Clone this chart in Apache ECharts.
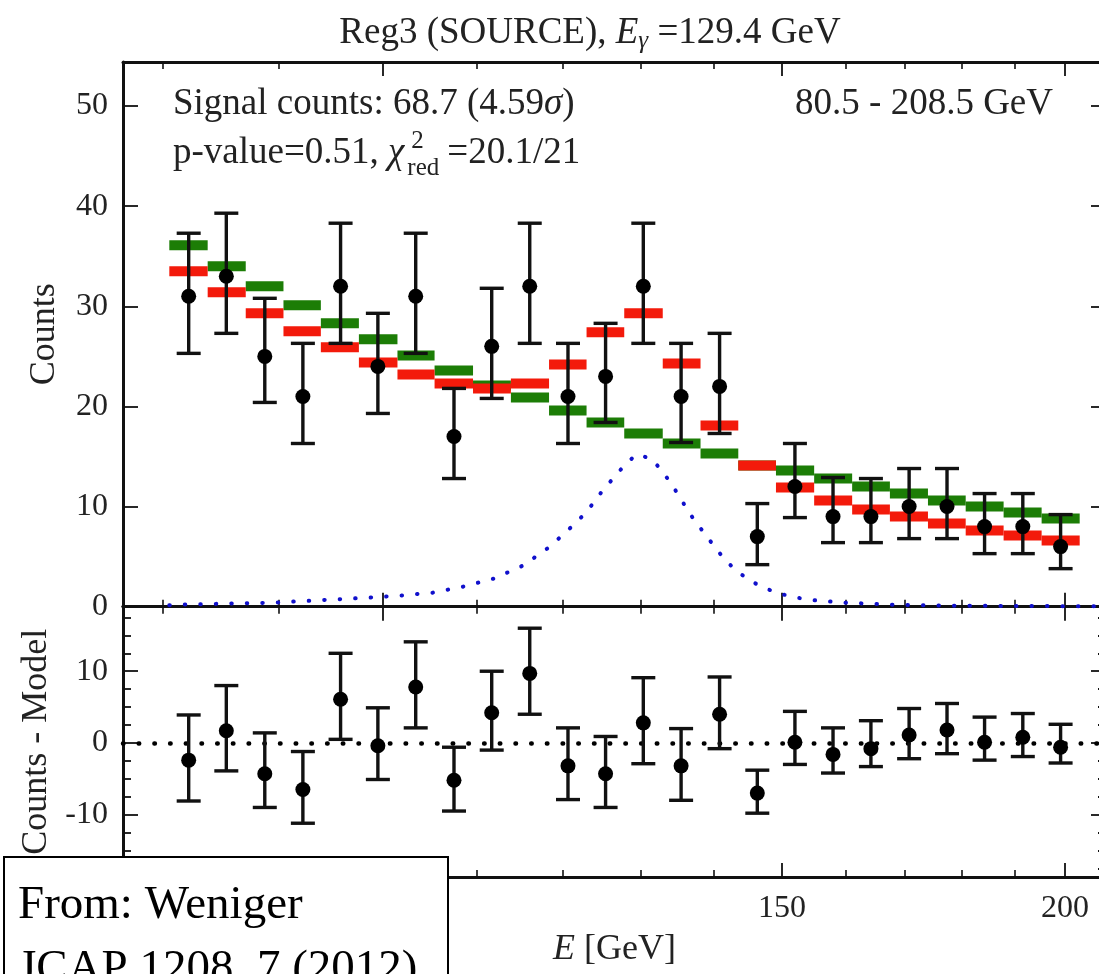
<!DOCTYPE html>
<html>
<head>
<meta charset="utf-8">
<script src="https://cdn.jsdelivr.net/npm/echarts@6/dist/echarts.min.js"></script>
<style>
  html, body { margin: 0; padding: 0; background: #fff; }
  #chart { width: 1099px; height: 974px; }
</style>
</head>
<body>
<div id="chart"></div>
<script>
// energy bins (GeV), log spaced
var binEdges = [80.5, 83.7, 87.0, 90.4, 93.9, 97.6, 101.5, 105.4, 109.6, 113.9, 118.4, 123.0, 127.8,
                132.9, 138.1, 143.5, 149.1, 155.0, 161.1, 167.4, 174.0, 180.8, 187.9, 195.3, 203.0];
var binCenters = [82.1, 85.3, 88.7, 92.2, 95.8, 99.5, 103.4, 107.5, 111.7, 116.1, 120.7, 125.4,
                  130.3, 135.4, 140.8, 146.3, 152.0, 158.0, 164.2, 170.7, 177.4, 184.3, 191.6, 199.1];

// top panel: measured counts with error bars
var counts   = [31, 33, 25, 21, 32, 24, 31, 17, 26, 32, 21, 23, 32, 21, 22, 7, 12, 9, 9, 10, 10, 8, 8, 6];
var countsHi = [37.3, 39.3, 30.8, 26.3, 38.3, 29.3, 37.3, 21.8, 31.8, 38.3, 26.3, 28.3, 38.3, 26.3, 27.3, 10.3,
                16.3, 12.9, 12.8, 13.8, 13.8, 11.3, 11.3, 9.2];
var countsLo = [25.3, 27.3, 20.4, 16.3, 26.3, 19.3, 25.3, 12.8, 20.8, 26.3, 16.3, 18.4, 26.3, 16.4, 17.3, 4.2,
                8.9, 6.4, 6.4, 6.8, 6.8, 5.3, 5.3, 3.8];

// background-only model (green) and background + line (red)
var background = [36.1, 34.0, 32.0, 30.1, 28.3, 26.7, 25.1, 23.6, 22.1, 20.9, 19.6, 18.4, 17.3, 16.3, 15.3, 14.1,
                  13.6, 12.8, 12.0, 11.3, 10.6, 10.0, 9.4, 8.8];
var model = [33.5, 31.4, 29.3, 27.5, 25.9, 24.4, 23.2, 22.3, 21.8, 22.3, 24.2, 27.4, 29.3, 24.3, 18.1, 14.1,
             11.9, 10.6, 9.7, 9.0, 8.3, 7.6, 7.1, 6.6];

// line signal (blue dotted curve)
var sigE = [80.5, 81.1, 89.4, 93.8, 98.5, 101.7, 105.2, 108.5, 111.9, 115.3, 118.5, 121.3, 122.8, 124.0, 125.2,
            126.6, 127.9, 129.4, 131.3, 132.8, 134.0, 135.2, 136.3, 137.6, 139.0, 140.4, 141.8, 143.6, 145.5,
            147.6, 150.0, 152.3, 154.8, 159.9, 167.9, 177.4, 203.1, 208.5];
var sigCounts = [0.15, 0.2, 0.4, 0.65, 0.9, 1.1, 1.4, 2.0, 2.8, 4.1, 6.0, 8.1, 9.3, 10.5, 11.8,
                 13.0, 14.2, 15.2, 14.8, 13.6, 12.3, 11.0, 9.6, 8.3, 7.0, 5.7, 4.5, 3.4, 2.5,
                 1.8, 1.25, 0.9, 0.65, 0.4, 0.2, 0.1, 0.05, 0.04];

// bottom panel: counts - model
var resid   = [-2.4, 1.7, -4.3, -6.5, 6.1, -0.4, 7.8, -5.2, 4.2, 9.7, -3.2, -4.3, 2.8, -3.2, 4.0, -7.0,
               0.1, -1.6, -0.8, 1.1, 1.8, 0.1, 0.8, -0.6];
var residHi = [3.9, 8.0, 1.4, -1.2, 12.5, 4.9, 14.1, -0.6, 10.0, 16.0, 2.1, 0.9, 9.1, 2.0, 9.2, -3.8,
               4.4, 2.1, 3.1, 4.8, 5.5, 3.6, 4.1, 2.6];
var residLo = [-8.1, -3.9, -9.0, -11.2, 0.5, -5.1, 2.1, -9.5, -1.0, 4.0, -7.9, -9.0, -2.9, -8.0, -0.8, -9.8,
               -3.0, -4.2, -3.3, -2.2, -1.5, -2.4, -1.9, -2.8];

// axis ticks
var xMajor = [100, 150, 200];
var xMinor = [80, 90, 110, 120, 130, 140, 160, 170, 180, 190];
var yTopTicks = [0, 10, 20, 30, 40, 50];
var yBotMajor = [-10, 0, 10];
var yBotMinor = [-17.5, -15, -12.5, -7.5, -5, -2.5, 2.5, 5, 7.5, 12.5, 15, 17.5];

var X_MIN = 76.8, X_MAX = 208.5;
var ink = '#111';
var green = '#1c7d06';
var red = '#f31a0b';
var blue = '#1010cc';
var serif = '"Liberation Serif", "Times New Roman", serif';

var chart = echarts.init(document.getElementById('chart'));

function xAxes(grid, position, labels) {
  var base = {
    type: 'log', logBase: 10, gridIndex: grid, position: position,
    min: X_MIN, max: X_MAX,
    splitLine: { show: false },
    axisLine: { show: true, onZero: false, lineStyle: { color: ink, width: 3 } }
  };
  var minor = Object.assign({}, base, {
    axisTick: { show: true, inside: true, length: 7, customValues: xMinor, lineStyle: { color: ink, width: 1.6 } },
    axisLabel: { show: false }
  });
  var major = Object.assign({}, base, {
    axisLine: { show: false, onZero: false },
    axisTick: { show: true, inside: true, length: 14, customValues: xMajor, lineStyle: { color: ink, width: 1.8 } },
    axisLabel: labels
      ? { show: true, customValues: xMajor, margin: 16, color: '#222', fontSize: 32, fontFamily: serif }
      : { show: false }
  });
  if (labels) {
    major.name = '{i|E} [GeV]';
    major.nameLocation = 'middle';
    major.nameGap = 55;
    major.nameTextStyle = {
      color: '#222', fontSize: 36, fontFamily: serif,
      rich: { i: { fontStyle: 'italic', fontSize: 36, fontFamily: serif, color: '#222' } }
    };
  }
  return [minor, major];
}

function yAxis(grid, position, min, max, ticks, len, labels, name) {
  var ax = {
    type: 'value', gridIndex: grid, position: position, min: min, max: max,
    splitLine: { show: false },
    axisLine: { show: true, onZero: false, lineStyle: { color: ink, width: 3 } },
    axisTick: { show: true, inside: true, length: len, customValues: ticks, lineStyle: { color: ink, width: 1.8 } },
    axisLabel: labels
      ? { show: true, customValues: ticks, margin: 15, color: '#222', fontSize: 32, fontFamily: serif }
      : { show: false }
  };
  if (name) {
    ax.name = name;
    ax.nameLocation = 'middle';
    ax.nameGap = 60;
    ax.nameTextStyle = { color: '#222', fontSize: 36, fontFamily: serif };
  }
  return ax;
}

// x axes: 0,1 top grid bottom; 2,3 top grid top; 4,5 bottom grid bottom; 6,7 bottom grid top
var xAxisList = [].concat(
  xAxes(0, 'bottom', false), xAxes(0, 'top', false),
  xAxes(1, 'bottom', true), xAxes(1, 'top', false)
);

// y axes: 0 top left, 1 top right, 2 bottom left major, 3 bottom left minor, 4 bottom right major, 5 bottom right minor
var yAxisList = [
  yAxis(0, 'left', 0, 54.4, yTopTicks, 15, true, 'Counts'),
  yAxis(0, 'right', 0, 54.4, yTopTicks, 15, false),
  yAxis(1, 'left', -18.7, 19.0, yBotMajor, 15, true, 'Counts - Model'),
  yAxis(1, 'left', -18.7, 19.0, yBotMinor, 8, false),
  yAxis(1, 'right', -18.7, 19.0, yBotMajor, 15, false),
  yAxis(1, 'right', -18.7, 19.0, yBotMinor, 8, false)
];

function renderBar(params, api) {
  var a = api.coord([api.value(0), api.value(2)]);
  var b = api.coord([api.value(1), api.value(2)]);
  return {
    type: 'rect',
    shape: { x: a[0], y: a[1] - 5, width: b[0] - a[0], height: 10 },
    style: { fill: api.visual('color') }
  };
}

function renderErr(params, api) {
  var x = api.value(0);
  var lo = api.coord([x, api.value(1)]);
  var hi = api.coord([x, api.value(2)]);
  var hw = 12;
  var st = { stroke: ink, lineWidth: 3.4 };
  return {
    type: 'group',
    children: [
      { type: 'line', shape: { x1: lo[0], y1: lo[1], x2: hi[0], y2: hi[1] }, style: st },
      { type: 'line', shape: { x1: lo[0] - hw, y1: lo[1], x2: lo[0] + hw, y2: lo[1] }, style: st },
      { type: 'line', shape: { x1: hi[0] - hw, y1: hi[1], x2: hi[0] + hw, y2: hi[1] }, style: st }
    ]
  };
}

function barData(vals) {
  return vals.map(function (v, i) { return [binEdges[i], binEdges[i + 1], v]; });
}
function errData(lo, hi) {
  return binCenters.map(function (e, i) { return [e, lo[i], hi[i]]; });
}
function pointData(vals) {
  return binCenters.map(function (e, i) { return [e, vals[i]]; });
}

// text measuring for the stacked chi^2 sub/superscript
var mctx = document.createElement('canvas').getContext('2d');
function textW(str, size, style) {
  mctx.font = (style ? style + ' ' : '') + size + 'px "Liberation Serif"';
  return mctx.measureText(str).width;
}
var TXT = 37;
var pvX = 173;
var chiEnd = pvX + textW('p-value=0.51, ', TXT) + textW('χ', TXT, 'italic') + 3;
var redW = textW('red', 25);

chart.setOption({
  animation: false,
  backgroundColor: '#fff',
  grid: [
    { left: 123, width: 983, top: 62, height: 544.7, outerBoundsMode: 'none', containLabel: false },
    { left: 123, width: 983, top: 606.7, height: 270.3, outerBoundsMode: 'none', containLabel: false }
  ],
  xAxis: xAxisList,
  yAxis: yAxisList,
  series: [
    { type: 'custom', name: 'background', xAxisIndex: 0, yAxisIndex: 0, itemStyle: { color: green },
      encode: { x: [0, 1], y: 2 }, renderItem: renderBar, data: barData(background), z: 2 },
    { type: 'custom', name: 'model', xAxisIndex: 0, yAxisIndex: 0, itemStyle: { color: red },
      encode: { x: [0, 1], y: 2 }, renderItem: renderBar, data: barData(model), z: 3 },
    { type: 'line', name: 'signal', xAxisIndex: 0, yAxisIndex: 0, showSymbol: false, symbol: 'none',
      lineStyle: { color: blue, width: 4, type: [0.5, 15], cap: 'round' },
      data: sigE.map(function (e, i) { return [e, sigCounts[i]]; }), z: 4 },
    { type: 'custom', name: 'counts err', xAxisIndex: 0, yAxisIndex: 0,
      encode: { x: 0, y: [1, 2] }, renderItem: renderErr, data: errData(countsLo, countsHi), z: 5 },
    { type: 'scatter', name: 'counts', xAxisIndex: 0, yAxisIndex: 0, symbolSize: 15,
      itemStyle: { color: '#000', opacity: 1 }, data: pointData(counts), z: 6 },

    { type: 'custom', name: 'resid err', xAxisIndex: 4, yAxisIndex: 2,
      encode: { x: 0, y: [1, 2] }, renderItem: renderErr, data: errData(residLo, residHi), z: 5 },
    { type: 'scatter', name: 'resid', xAxisIndex: 4, yAxisIndex: 2, symbolSize: 15,
      itemStyle: { color: '#000', opacity: 1 }, data: pointData(resid), z: 6,
      markLine: {
        silent: true, symbol: 'none', label: { show: false },
        lineStyle: { color: '#000', width: 4.5, type: [0.5, 15.2], cap: 'round', opacity: 1 },
        data: [{ yAxis: 0 }]
      }
    }
  ],
  graphic: [
    { type: 'text', x: 590, y: 33, style: {
        text: '{n|Reg3 (SOURCE), }{i|E}{s|γ}{n| =129.4 GeV}', align: 'center', verticalAlign: 'middle',
        fontFamily: serif, fontSize: TXT, fill: '#222',
        rich: {
          n: { fontFamily: serif, fontSize: TXT, fill: '#222' },
          i: { fontFamily: serif, fontSize: TXT, fontStyle: 'italic', fill: '#222' },
          s: { fontFamily: serif, fontSize: 25, fontStyle: 'italic', fill: '#222', padding: [16, 0, 0, 0] }
        }
    } },
    { type: 'text', x: 173, y: 104, style: {
        text: 'Signal counts: 68.7 (4.59{i|σ})', align: 'left', verticalAlign: 'middle',
        fontFamily: serif, fontSize: TXT, fill: '#222',
        rich: { i: { fontFamily: serif, fontSize: TXT, fontStyle: 'italic', fill: '#222' } }
    } },
    { type: 'text', x: pvX, y: 153, style: {
        text: 'p-value=0.51, {i|χ}', align: 'left', verticalAlign: 'middle',
        fontFamily: serif, fontSize: TXT, fill: '#222',
        rich: { i: { fontFamily: serif, fontSize: TXT, fontStyle: 'italic', fill: '#222' } }
    } },
    { type: 'text', x: chiEnd + 4, y: 141, style: {
        text: '2', align: 'left', verticalAlign: 'middle', fontFamily: serif, fontSize: 25, fill: '#222'
    } },
    { type: 'text', x: chiEnd, y: 168, style: {
        text: 'red', align: 'left', verticalAlign: 'middle', fontFamily: serif, fontSize: 25, fill: '#222'
    } },
    { type: 'text', x: chiEnd + redW + 8, y: 153, style: {
        text: '=20.1/21', align: 'left', verticalAlign: 'middle', fontFamily: serif, fontSize: TXT, fill: '#222'
    } },
    { type: 'text', x: 1053, y: 104, style: {
        text: '80.5 - 208.5 GeV', align: 'right', verticalAlign: 'middle',
        fontFamily: serif, fontSize: TXT, fill: '#222'
    } },
    // citation box overlaid on the lower left corner
    { type: 'rect', z: 100, shape: { x: 4, y: 857, width: 444, height: 140 },
      style: { fill: '#fff', stroke: '#000', lineWidth: 2 } },
    { type: 'text', z: 101, x: 18, y: 906, style: {
        text: 'From: Weniger', align: 'left', verticalAlign: 'middle',
        fontFamily: serif, fontSize: 47, fill: '#000'
    } },
    { type: 'text', z: 101, x: 18, y: 970, style: {
        text: 'JCAP 1208, 7 (2012)', align: 'left', verticalAlign: 'middle',
        fontFamily: serif, fontSize: 47, fill: '#000'
    } }
  ]
});
</script>
</body>
</html>
